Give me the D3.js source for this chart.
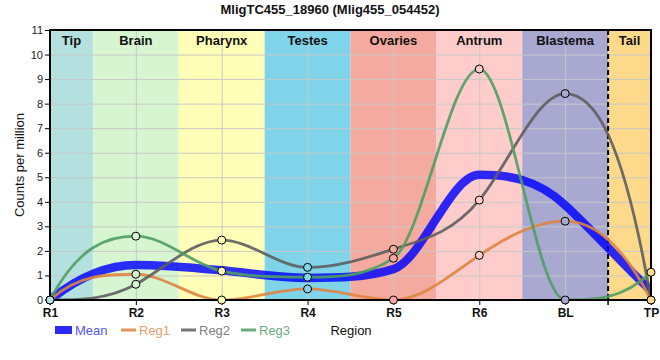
<!DOCTYPE html>
<html><head><meta charset="utf-8">
<script src="https://cdn.jsdelivr.net/npm/d3@7"></script>
<style>body{margin:0;background:#fff;} svg{display:block;font-family:"Liberation Sans",Arial,sans-serif;}</style>
</head><body><svg id="c" width="660" height="360"></svg>
<script>
// ---- data ----
const categories = ["R1","R2","R3","R4","R5","R6","BL","TP"];
const regions = ["Tip","Brain","Pharynx","Testes","Ovaries","Antrum","Blastema","Tail"];
const regionColors = ["#b4e1df","#d6f5d0","#ffffb8","#7fd4ea","#f4aa9e","#ffcccc","#a8a8d0","#fdd98b"];
const meanValues = [0, 1.43, 1.21, 0.90, 1.26, 5.10, 3.87, 0.38];
const reg1Values = [0, 1.05, 0, 0.45, 0, 1.82, 3.21, 0];
const reg2Values = [0, 0.64, 2.44, 1.33, 2.07, 4.07, 8.41, 0];
const reg3Values = [0, 2.60, 1.18, 0.93, 1.70, 9.41, 0, 1.13];
const yTickValues = [0,1,2,3,4,5,6,7,8,9,10,11];
const seriesNames = ["Mean","Reg1","Reg2","Reg3"];
const seriesColors = ["#0000ff","#e0843f","#5e5e5e","#4f9e63"];
const legendTextColors = ["#5555ff","#e8a070","#808080","#6aae80"];
const tailBoundaryAfter = "BL";

// ---- layout ----
const L = 50, R = 651, T = 30, B = 300;
const svg = d3.select("#c");
const x = d3.scalePoint().domain(categories).range([L, R]).padding(0);
const y = d3.scaleLinear().domain([0, 11]).range([B, T]);
const n = categories.length;
const xi = d3.scaleLinear().domain([0, n - 1]).range([x(categories[0]), x(categories[n - 1])]);

// bands
const bandEdge = i => xi(Math.max(0, Math.min(n - 1, i)));
svg.append("g").selectAll("rect").data(regions).join("rect")
  .attr("x", (d, i) => bandEdge(i - 0.5))
  .attr("y", T)
  .attr("width", (d, i) => bandEdge(i + 0.5) - bandEdge(i - 0.5))
  .attr("height", B - T)
  .attr("fill", (d, i) => regionColors[i]);

// grid
const grid = svg.append("g").attr("stroke", "#c8c8c8").attr("stroke-width", 1);
grid.selectAll("line.h").data(yTickValues).join("line").attr("class","h")
  .attr("x1", L).attr("x2", R).attr("y1", d => y(d) + 0.5).attr("y2", d => y(d) + 0.5);
grid.selectAll("line.v").data(categories).join("line").attr("class","v")
  .attr("x1", d => x(d) + 0.5).attr("x2", d => x(d) + 0.5).attr("y1", T).attr("y2", B);

// band labels
svg.append("g").selectAll("text").data(regions).join("text")
  .attr("x", (d, i) => (bandEdge(i - 0.5) + bandEdge(i + 0.5)) / 2)
  .attr("y", 45)
  .attr("text-anchor", "middle")
  .attr("font-size", 13).attr("font-weight", "bold").attr("fill", "#111")
  .text(d => d);

// dashed boundary line
const bi = categories.indexOf(tailBoundaryAfter);
svg.append("line").attr("x1", bandEdge(bi + 0.5)).attr("x2", bandEdge(bi + 0.5))
  .attr("y1", T).attr("y2", B).attr("stroke", "#000").attr("stroke-width", 2)
  .attr("stroke-dasharray", "5,3");
svg.append("line").attr("x1", bandEdge(bi + 0.5)).attr("x2", bandEdge(bi + 0.5))
  .attr("y1", B).attr("y2", B + 5).attr("stroke", "#000").attr("stroke-width", 1.5);

// ---- spline (FMM cubic spline slopes + monotone filter) ----
function fmmSlopes(xs, ys) {
  const N = xs.length;
  const X = [0, ...xs], Y = [0, ...ys];
  const b = new Array(N + 1).fill(0), c = new Array(N + 1).fill(0), d = new Array(N + 1).fill(0);
  const nm1 = N - 1;
  d[1] = X[2] - X[1];
  c[2] = (Y[2] - Y[1]) / d[1];
  for (let i = 2; i < N; i++) {
    d[i] = X[i + 1] - X[i];
    b[i] = 2 * (d[i - 1] + d[i]);
    c[i + 1] = (Y[i + 1] - Y[i]) / d[i];
    c[i] = c[i + 1] - c[i];
  }
  b[1] = -d[1]; b[N] = -d[nm1];
  c[1] = 0; c[N] = 0;
  if (N > 3) {
    c[1] = c[3] / (X[4] - X[2]) - c[2] / (X[3] - X[1]);
    c[N] = c[nm1] / (X[N] - X[N - 2]) - c[N - 2] / (X[nm1] - X[N - 3]);
    c[1] = c[1] * d[1] * d[1] / (X[4] - X[1]);
    c[N] = -c[N] * d[nm1] * d[nm1] / (X[N] - X[N - 3]);
  }
  for (let i = 2; i <= N; i++) {
    const t = d[i - 1] / b[i - 1];
    b[i] = b[i] - t * d[i - 1];
    c[i] = c[i] - t * c[i - 1];
  }
  c[N] = c[N] / b[N];
  for (let i = nm1; i >= 1; i--) c[i] = (c[i] - d[i] * c[i + 1]) / b[i];
  const m = new Array(N + 1);
  m[N] = (Y[N] - Y[N - 1]) / d[nm1] + d[nm1] * (c[nm1] + 2 * c[N]);
  for (let i = 1; i <= nm1; i++) m[i] = (Y[i + 1] - Y[i]) / d[i] - d[i] * (c[i + 1] + 2 * c[i]);
  return m.slice(1);
}
function filteredSlopes(ys) {
  const N = ys.length, xs = d3.range(N);
  const m = fmmSlopes(xs, ys);
  const ss = d3.range(N - 1).map(i => ys[i + 1] - ys[i]);
  return m.map((b, i) => {
    const S0 = i === 0 ? ss[0] : ss[i - 1];
    const S1 = i === N - 1 ? ss[N - 2] : ss[i];
    if (S0 * S1 <= 0) return 0;
    const t1 = Math.min(Math.abs(S0), Math.abs(S1));
    return S1 > 0 ? Math.min(Math.max(0, b), 3 * t1) : Math.max(Math.min(0, b), -3 * t1);
  });
}
function splinePath(vals) {
  const m = filteredSlopes(vals);
  const p = d3.path();
  p.moveTo(xi(0), y(vals[0]));
  for (let i = 0; i < vals.length - 1; i++) {
    p.bezierCurveTo(xi(i + 1/3), y(vals[i] + m[i] / 3),
                    xi(i + 2/3), y(vals[i + 1] - m[i + 1] / 3),
                    xi(i + 1), y(vals[i + 1]));
  }
  return p.toString();
}

svg.append("clipPath").attr("id", "clip").append("rect")
  .attr("x", L).attr("y", T - 5).attr("width", R - L).attr("height", B - T + 5);
const lines = svg.append("g").attr("clip-path", "url(#clip)").attr("fill", "none");
lines.append("path").attr("d", splinePath(meanValues))
  .attr("stroke", seriesColors[0]).attr("stroke-opacity", 0.82).attr("stroke-width", 8.5);
[reg1Values, reg2Values, reg3Values].forEach((vals, k) => {
  lines.append("path").attr("d", splinePath(vals))
    .attr("stroke", seriesColors[k + 1]).attr("stroke-opacity", 0.9).attr("stroke-width", 2.8);
});

// frame
svg.append("rect").attr("x", L).attr("y", T).attr("width", R - L).attr("height", B - T)
  .attr("fill", "none").attr("stroke", "#000").attr("stroke-width", 2);

// axes
const yAxis = svg.append("g").attr("transform", `translate(${L},0)`)
  .call(d3.axisLeft(y).tickValues(yTickValues).tickSize(5).tickPadding(2));
yAxis.select(".domain").remove();
yAxis.selectAll("text").attr("font-size", 11).attr("fill", "#222").attr("font-family", "Liberation Sans, Arial, sans-serif");
yAxis.selectAll("line").attr("stroke", "#000");

const xAxis = svg.append("g").attr("transform", `translate(0,${B})`)
  .call(d3.axisBottom(x).tickSize(5).tickPadding(3));
xAxis.select(".domain").remove();
xAxis.selectAll("text").attr("font-size", 12).attr("font-weight", "bold").attr("fill", "#111")
  .attr("font-family", "Liberation Sans, Arial, sans-serif");
xAxis.selectAll("line").attr("stroke", "#000");

// points
const pts = svg.append("g");
[reg1Values, reg2Values, reg3Values].forEach(vals => {
  pts.selectAll(null).data(vals).join("circle")
    .attr("cx", (d, i) => x(categories[i]))
    .attr("cy", d => y(d))
    .attr("r", 4)
    .attr("fill", (d, i) => regionColors[i])
    .attr("stroke", "#000").attr("stroke-width", 1);
});

// title
svg.append("text").attr("x", 330).attr("y", 14).attr("text-anchor", "middle")
  .attr("font-size", 13).attr("font-weight", "bold").attr("fill", "#111")
  .text("MligTC455_18960 (Mlig455_054452)");

// y axis title
svg.append("text").attr("transform", `translate(24,${(T + B) / 2}) rotate(-90)`)
  .attr("text-anchor", "middle").attr("font-size", 13).attr("fill", "#111")
  .text("Counts per million");

// legend
const lg = svg.append("g").attr("transform", "translate(0,330)");
const legendX = [55, 121, 181, 241];
seriesNames.forEach((name, k) => {
  const g = lg.append("g").attr("transform", `translate(${legendX[k]},0)`);
  if (k === 0) g.append("rect").attr("x", 0).attr("y", -4).attr("width", 17).attr("height", 8).attr("fill", "#2b2bff");
  else g.append("line").attr("x1", 0).attr("x2", 15).attr("y1", 0).attr("y2", 0)
         .attr("stroke", seriesColors[k]).attr("stroke-opacity", 0.85).attr("stroke-width", 3);
  g.append("text").attr("x", k === 0 ? 20 : 18).attr("y", 4.5).attr("font-size", 13)
    .attr("fill", legendTextColors[k]).text(name);
});
lg.append("text").attr("x", 351).attr("y", 4.5).attr("text-anchor", "middle")
  .attr("font-size", 13).attr("fill", "#111").text("Region");
</script>
</body></html>
